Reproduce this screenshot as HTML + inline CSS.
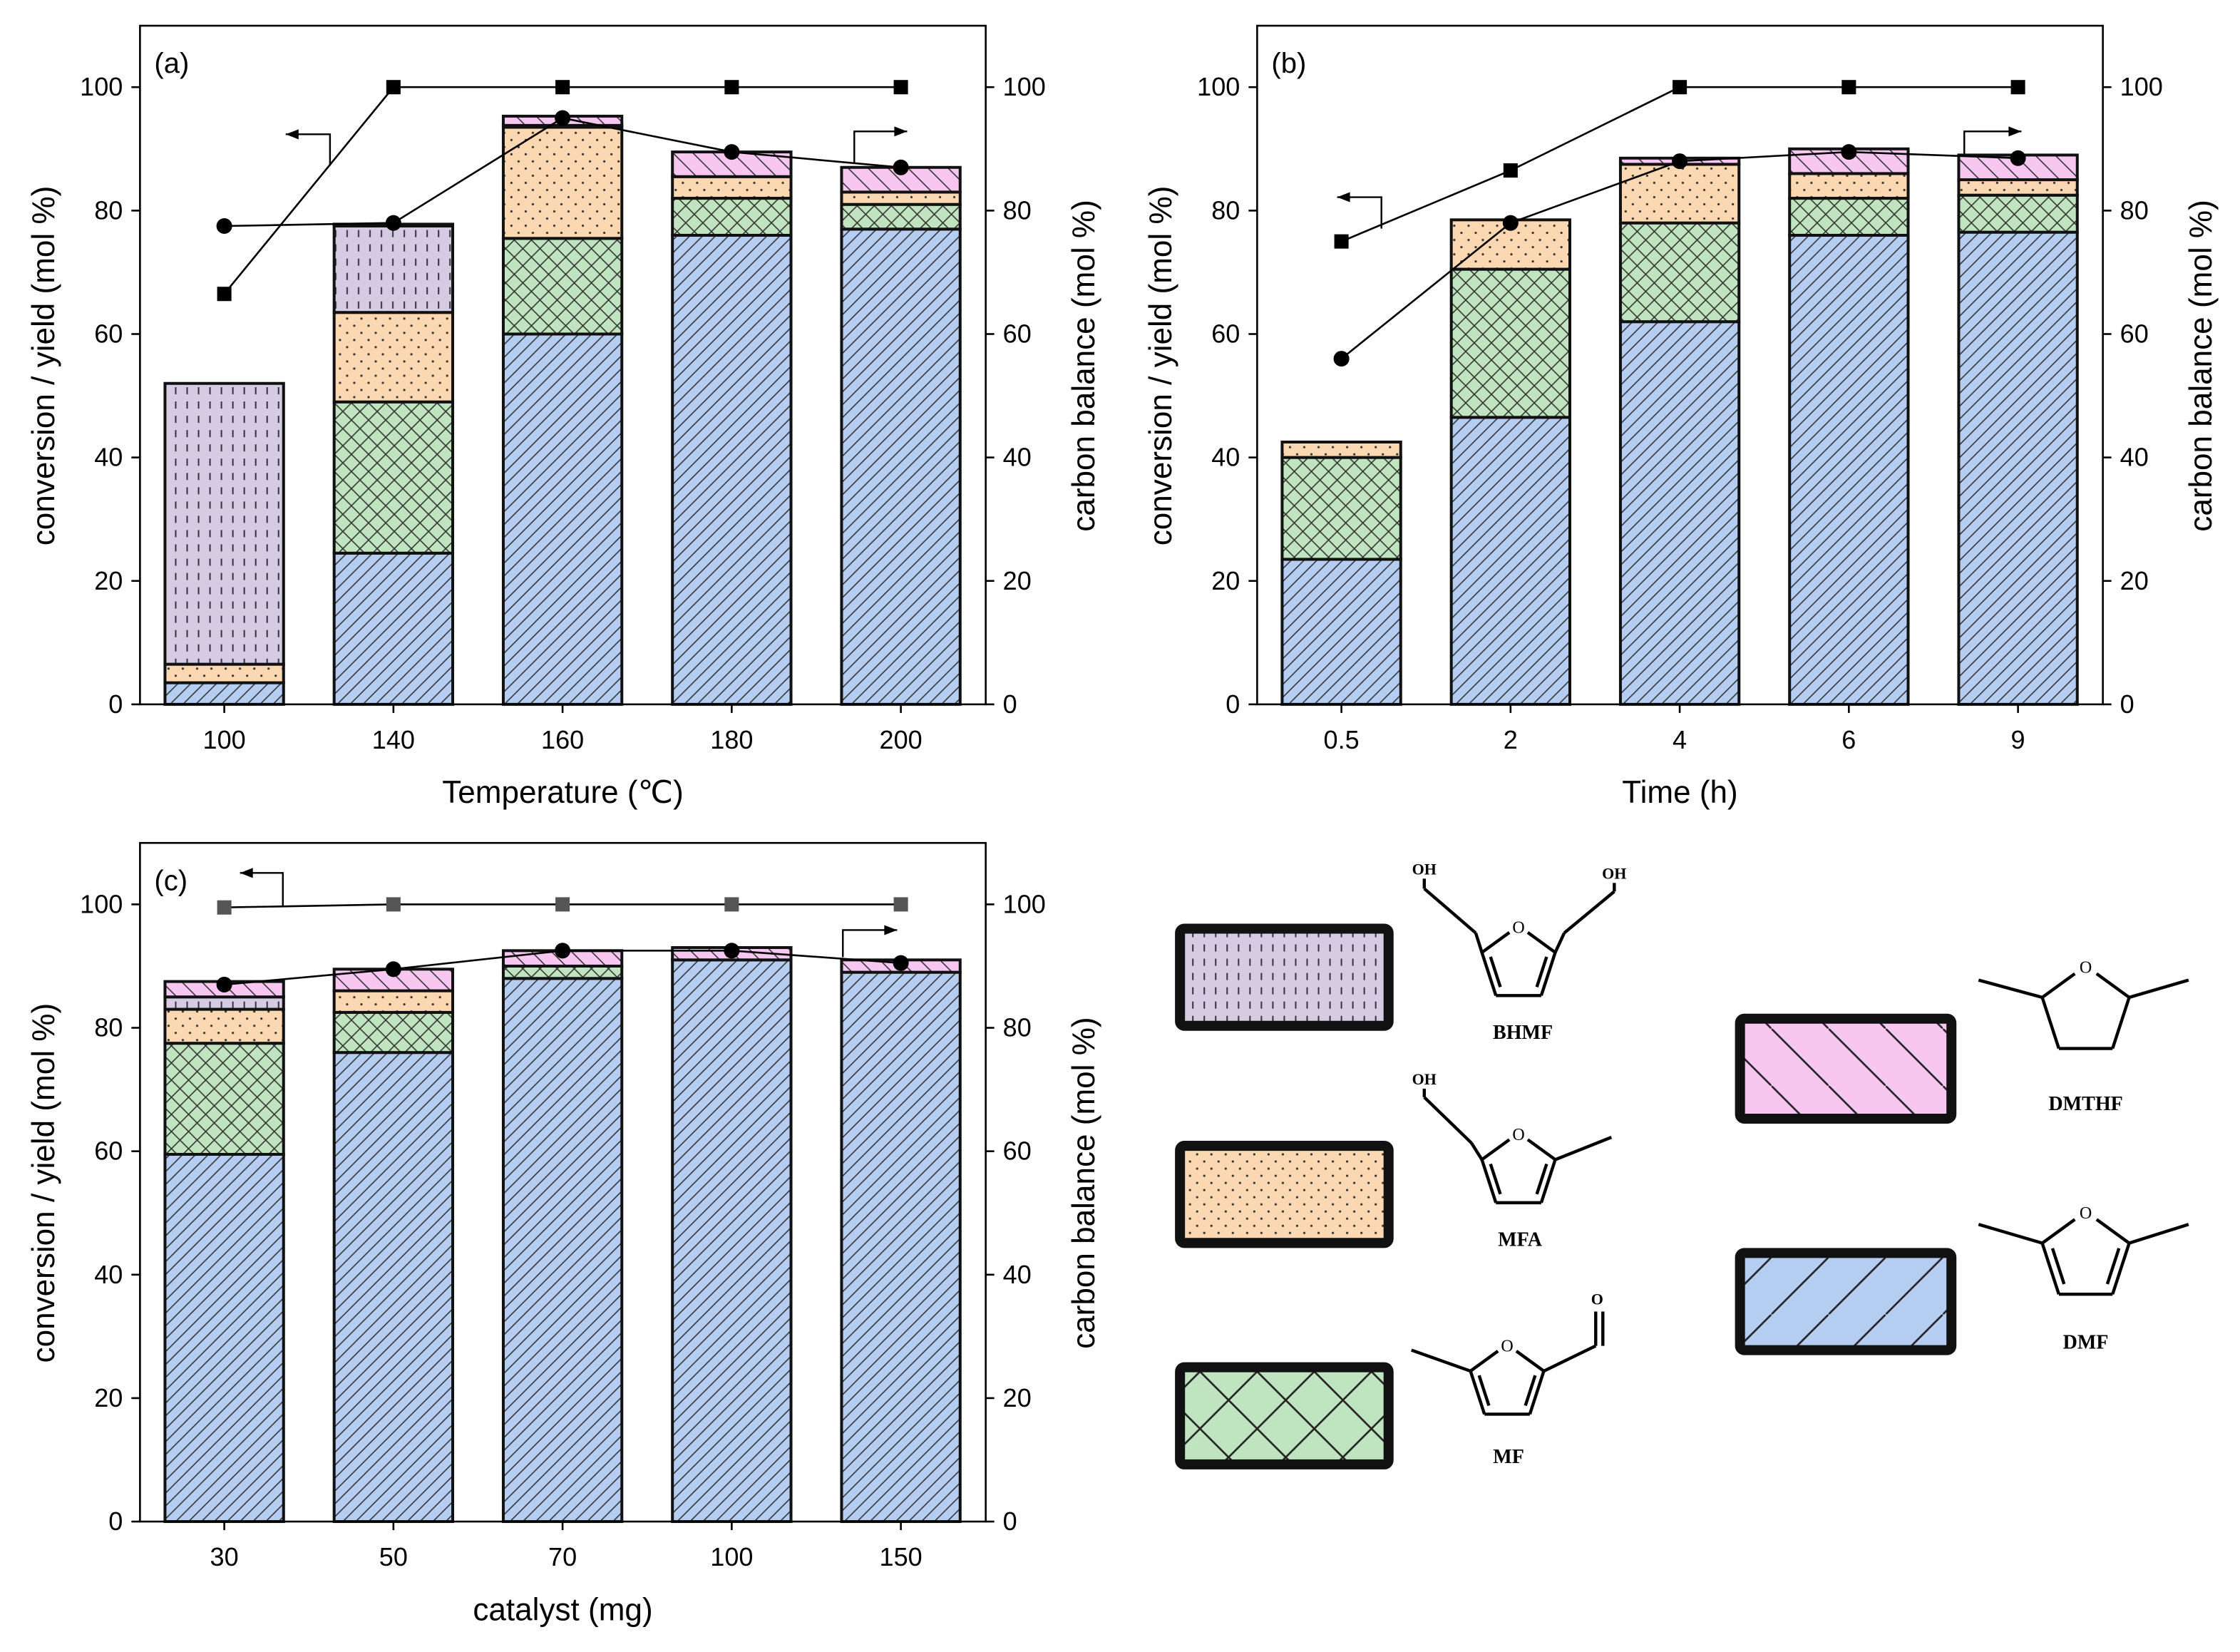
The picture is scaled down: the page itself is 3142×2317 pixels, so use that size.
<!DOCTYPE html>
<html><head><meta charset="utf-8"><style>
html,body{margin:0;padding:0;background:#fff;}
svg{display:block;font-family:"Liberation Sans",Arial,sans-serif;}
</style></head><body>
<svg id="fig" width="3142" height="2317" viewBox="0 0 1568 1156.3" preserveAspectRatio="none" xmlns="http://www.w3.org/2000/svg">
<defs>
<pattern id="pDMF" patternUnits="userSpaceOnUse" width="9" height="9"><rect width="9" height="9" fill="#b6cdf2"/><path d="M-1,10 L10,-1 M-3,3 L3,-3 M6,12 L12,6" stroke="#333" stroke-width="0.8"/></pattern>
<pattern id="pMF" patternUnits="userSpaceOnUse" width="12" height="12"><rect width="12" height="12" fill="#bfe4bf"/><path d="M0,0 L12,12 M12,0 L0,12" stroke="#333" stroke-width="0.8"/></pattern>
<pattern id="pMFA" patternUnits="userSpaceOnUse" width="10" height="10"><rect width="10" height="10" fill="#fcd8b2"/><circle cx="3" cy="3" r="0.8" fill="#333"/><circle cx="8" cy="8" r="0.8" fill="#333"/></pattern>
<pattern id="pBHMF" patternUnits="userSpaceOnUse" width="8" height="10"><rect width="8" height="10" fill="#d5cbe3"/><path d="M3,1 L3,6" stroke="#333" stroke-width="1"/></pattern>
<pattern id="pDMTHF" patternUnits="userSpaceOnUse" width="14" height="14"><rect width="14" height="14" fill="#f7c7f2"/><path d="M0,0 L14,14 M-7,7 L7,21 M7,-7 L21,7" stroke="#333" stroke-width="0.8"/></pattern>
<pattern id="LDMF" patternUnits="userSpaceOnUse" width="40" height="40"><rect width="40" height="40" fill="#b6cdf2"/><path d="M0,40 L40,0" stroke="#222" stroke-width="1.3"/></pattern>
<pattern id="LMF" patternUnits="userSpaceOnUse" width="40" height="40"><rect width="40" height="40" fill="#bfe4bf"/><path d="M0,0 L40,40 M40,0 L0,40" stroke="#222" stroke-width="1.3"/></pattern>
<pattern id="LDMTHF" patternUnits="userSpaceOnUse" width="40" height="40"><rect width="40" height="40" fill="#f7c7f2"/><path d="M0,0 L40,40" stroke="#222" stroke-width="1.3"/></pattern>
</defs>
<g id="plots"></g>
<g id="legend"></g>
</svg>
<script>
const NS="http://www.w3.org/2000/svg";
const seriesNames=["DMF","MF","MFA","BHMF","DMTHF"];
// panel (a)
const catsA=["100","140","160","180","200"];
const dmfA=[3.5,24.5,60,76,77];
const mfA=[0,24.5,15.5,6,4];
const mfaA=[3,14.5,18,3.5,2];
const bhmfA=[45.5,14,0.3,0,0];
const dmthfA=[0,0.3,1.5,4,4];
const convA=[66.5,100,100,100,100];
const cbA=[77.5,78,95,89.5,87];
// panel (b)
const catsB=["0.5","2","4","6","9"];
const dmfB=[23.5,46.5,62,76,76.5];
const mfB=[16.5,24,16,6,6];
const mfaB=[2.5,8,9.5,4,2.5];
const bhmfB=[0,0,0,0,0];
const dmthfB=[0,0,1,4,4];
const convB=[75,86.5,100,100,100];
const cbB=[56,78,88,89.5,88.5];
// panel (c)
const catsC=["30","50","70","100","150"];
const dmfC=[59.5,76,88,91,89];
const mfC=[18,6.5,2,0,0];
const mfaC=[5.5,3.5,0,0,0];
const bhmfC=[2,0,0,0,0];
const dmthfC=[2.5,3.5,2.5,2,2];
const convC=[99.5,100,100,100,100];
const cbC=[87,89.5,92.5,92.5,90.5];
const yTicks=[0,20,40,60,80,100];

const fills={DMF:"url(#pDMF)",MF:"url(#pMF)",MFA:"url(#pMFA)",BHMF:"url(#pBHMF)",DMTHF:"url(#pDMTHF)"};
const root=document.getElementById('plots');
function mk(tag,attrs,parent,text){const e=document.createElementNS(NS,tag);for(const k in attrs)e.setAttribute(k,attrs[k]);if(text!==undefined)e.textContent=text;(parent||root).appendChild(e);return e;}

function panel(id,x0,yZero,cats,layers,conv,cb,xTitle,label,arrows){
  const g=mk('g',{});
  
  
  const W=592,top=yZero-475,k=4.32;
  const y=v=>yZero-v*k;
  const xc=i=>x0+59+i*118.4;
  cats.forEach((c,i)=>{
    let base=0;
    layers.forEach((arr,li)=>{
      const v=arr[i]; if(v<=0)return;
      const r=mk('rect',{x:xc(i)-41.5,y:y(base+v),width:83,height:v*k,fill:fills[seriesNames[li]],stroke:"#111","stroke-width":2},g);
      
      
      base+=v;
    });
  });
  const ax=mk('rect',{x:x0,y:top,width:W,height:475,fill:"none",stroke:"#000","stroke-width":1.3},g);
  
  
  yTicks.forEach(t=>{
    mk('line',{x1:x0-6,x2:x0,y1:y(t),y2:y(t),stroke:"#000","stroke-width":1.3},g);
    mk('line',{x1:x0+W,x2:x0+W+6,y1:y(t),y2:y(t),stroke:"#000","stroke-width":1.3},g);
    const tl=mk('text',{x:x0-12,y:y(t)+6,"text-anchor":"end","font-size":18},g,String(t));
    
    
    const tr=mk('text',{x:x0+W+12,y:y(t)+6,"font-size":18},g,String(t));
    
    
  });
  cats.forEach((c,i)=>{
    mk('line',{x1:xc(i),x2:xc(i),y1:yZero,y2:yZero+6,stroke:"#000","stroke-width":1.3},g);
    const t=mk('text',{x:xc(i),y:yZero+31,"text-anchor":"middle","font-size":18},g,c);
    
    
  });
  const xt=mk('text',{x:x0+W/2,y:yZero+69,"text-anchor":"middle","font-size":22},g,xTitle);
  
  
  const yl=mk('text',{x:0,y:0,"text-anchor":"middle","font-size":22,transform:`translate(${x0-60},${yZero-237}) rotate(-90)`},g,"conversion / yield (mol %)");
  
  
  const yr=mk('text',{x:0,y:0,"text-anchor":"middle","font-size":22,transform:`translate(${x0+W+76},${yZero-237}) rotate(-90)`},g,"carbon balance (mol %)");
  
  
  const pl=mk('text',{x:x0+10,y:top+33,"font-size":20},g,label);
  
  
  const ptsC=conv.map((v,i)=>xc(i)+','+y(v)).join(' ');
  const l1=mk('polyline',{points:ptsC,fill:"none",stroke:"#000","stroke-width":1.3},g);
  
  
  const ptsB=cb.map((v,i)=>xc(i)+','+y(v)).join(' ');
  const l2=mk('polyline',{points:ptsB,fill:"none",stroke:"#000","stroke-width":1.3},g);
  
  
  conv.forEach((v,i)=>{
    const s=mk('rect',{x:xc(i)-5,y:y(v)-5,width:10,height:10,fill:id==='c'?"#555":"#000"},g);
    
    
  });
  cb.forEach((v,i)=>{
    const s=mk('circle',{cx:xc(i),cy:y(v),r:5.5,fill:"#000"},g);
    
    
  });
  arrows.forEach(a=>{
    const ag=mk('g',{},g);
    
    
    mk('polyline',{points:`${a[0]},${a[3]} ${a[0]},${a[1]} ${a[2]},${a[1]}`,fill:"none",stroke:"#000","stroke-width":1.2},ag);
    const d=a[2]<a[0]?1:-1;
    mk('polygon',{points:`${a[2]},${a[1]} ${a[2]+d*9},${a[1]-3.5} ${a[2]+d*9},${a[1]+3.5}`,fill:"#000"},ag);
  });
}
panel('a',98,493,catsA,[dmfA,mfA,mfaA,bhmfA,dmthfA],convA,cbA,"Temperature (\u2103)","(a)",[[231,94,200,116],[598,92,635,114]]);
panel('b',880,493,catsB,[dmfB,mfB,mfaB,bhmfB,dmthfB],convB,cbB,"Time (h)","(b)",[[967,138,936,160],[1375,92,1415,108]]);
panel('c',98,1065,catsC,[dmfC,mfC,mfaC,bhmfC,dmthfC],convC,cbC,"catalyst (mg)","(c)",[[198,611,168,634],[590,651,628,670]]);

const lg=document.getElementById('legend');
function box(x,yy,w,h,fill,name){const r=mk('rect',{x:x,y:yy,width:w,height:h,fill:fill,stroke:"#111","stroke-width":7,rx:3},lg);}
box(826,650,146,68,"url(#pBHMF)","bhmf");
box(826,802,146,68,"url(#pMFA)","mfa");
box(826,957,146,68,"url(#LMF)","mf");
box(1218,713,148,70,"url(#LDMTHF)","dmthf");
box(1218,877,148,68,"url(#LDMF)","dmf");
function ring(cx,cy,r,double){
  const pts=[];for(let i=0;i<5;i++){const a=-Math.PI/2+i*2*Math.PI/5;pts.push([cx+r*Math.cos(a),cy+r*Math.sin(a)]);}
  const g=mk('g',{},lg);
  for(let i=0;i<5;i++){const p=pts[i],q=pts[(i+1)%5];
    const sa=i===0?[0.25,1]:i===4?[0,0.75]:[0,1];
    mk('line',{x1:p[0]+(q[0]-p[0])*sa[0],y1:p[1]+(q[1]-p[1])*sa[0],x2:p[0]+(q[0]-p[0])*sa[1],y2:p[1]+(q[1]-p[1])*sa[1],stroke:"#000","stroke-width":2.2},g);}
  mk('text',{x:cx,y:pts[0][1]+5,"text-anchor":"middle","font-size":12,"font-family":"Liberation Serif, serif"},g,"O");
  if(double){[[1,2],[3,4]].forEach(([a,b])=>{const p=pts[a],q=pts[b];const ix=(cx-(p[0]+q[0])/2)*0.22,iy=(cy-(p[1]+q[1])/2)*0.22;mk('line',{x1:p[0]+ix+(q[0]-p[0])*0.15,y1:p[1]+iy+(q[1]-p[1])*0.15,x2:q[0]+ix-(q[0]-p[0])*0.15,y2:q[1]+iy-(q[1]-p[1])*0.15,stroke:"#000","stroke-width":2.2},g);});}
  return pts;
}
function ln(a,b,c,d){mk('line',{x1:a,y1:b,x2:c,y2:d,stroke:"#000","stroke-width":2.2},lg);}
function lbl(x,yy,t,fs){const e=mk('text',{x:x,y:yy,"text-anchor":"middle","font-size":fs||14,"font-weight":"bold","font-family":"Liberation Serif, serif"},lg,t);}
function sm(x,yy,t){mk('text',{x:x,y:yy,"text-anchor":"middle","font-size":11,"font-weight":"bold","font-family":"Liberation Serif, serif"},lg,t);}
let p=ring(1063,675,27,true);
ln(p[4][0],p[4][1],1033,653);ln(1033,653,997,622);ln(997,622,997,615);sm(997,612,"OH");
ln(p[1][0],p[1][1],1095,653);ln(1095,653,1130,624);ln(1130,624,1130,618);sm(1130,615,"OH");
lbl(1066,727,"BHMF");
p=ring(1063,820,27,true);
ln(p[4][0],p[4][1],1030,800);ln(1030,800,997,768);ln(997,768,997,762);sm(997,759,"OH");
ln(p[1][0],p[1][1],1128,796);
lbl(1064,872,"MFA");
p=ring(1055,968,27,true);
ln(p[4][0],p[4][1],988,945);
ln(p[1][0],p[1][1],1117,942);ln(1117,942,1117,918);ln(1122,942,1122,918);sm(1118,913,"O");
lbl(1056,1024,"MF");
p=ring(1460,708,32,false);
ln(p[4][0],p[4][1],1385,686);ln(p[1][0],p[1][1],1532,686);
lbl(1460,777,"DMTHF");
p=ring(1460,880,32,true);
ln(p[4][0],p[4][1],1385,857);ln(p[1][0],p[1][1],1532,857);
lbl(1460,944,"DMF");
</script>
</body></html>
